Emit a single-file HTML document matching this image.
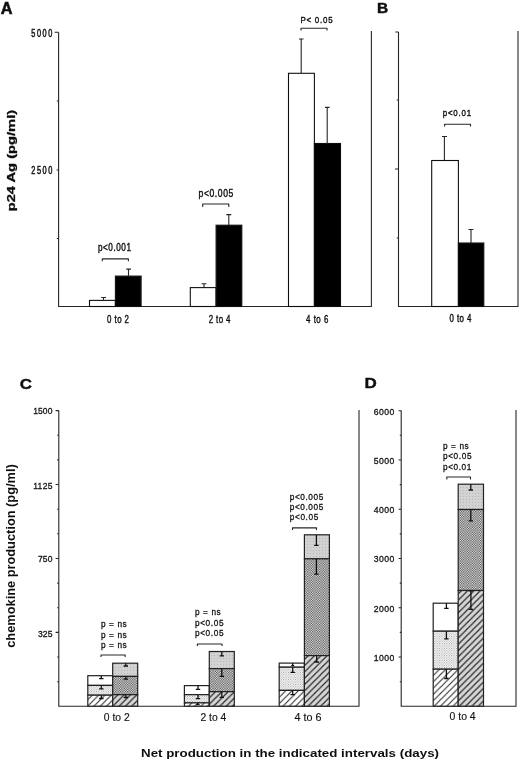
<!DOCTYPE html>
<html><head><meta charset="utf-8">
<style>
html,body{margin:0;padding:0;background:#fff;}
svg{display:block}
text{font-family:"Liberation Sans",sans-serif;fill:#111}
.s{font-size:10.3px;stroke:#111;stroke-width:.4}
.n{font-size:9.6px;stroke:#111;stroke-width:.3}
.c{font-size:10.8px;stroke:#111;stroke-width:.15}
.b{font-weight:bold}
.ln{stroke:#262626;stroke-width:1.1;fill:none}
.eb{stroke:#111;stroke-width:1.3;fill:none}
</style></head><body>
<svg width="520" height="762" viewBox="0 0 520 762">
<defs>
<filter id="bl" x="0" y="0" width="520" height="762" filterUnits="userSpaceOnUse"><feGaussianBlur stdDeviation="0.35"/></filter>
<pattern id="hw" width="6.3" height="6.3" patternUnits="userSpaceOnUse">
<rect width="6.3" height="6.3" fill="#fff"/>
<path d="M-1,1 L1,-1 M-1,7.3 L7.3,-1 M5.3,7.3 L7.3,5.3" stroke="#222" stroke-width="1"/>
</pattern>
<pattern id="hg" width="6.3" height="6.3" patternUnits="userSpaceOnUse">
<rect width="6.3" height="6.3" fill="#d6d6d6"/>
<path d="M-1,1 L1,-1 M-1,7.3 L7.3,-1 M5.3,7.3 L7.3,5.3" stroke="#222" stroke-width="1.15"/>
</pattern>
<pattern id="dl" width="2.4" height="2.4" patternUnits="userSpaceOnUse">
<rect width="2.4" height="2.4" fill="#fff"/>
<rect width="0.9" height="0.9" fill="#8c8c8c"/>
<rect x="1.2" y="1.2" width="0.9" height="0.9" fill="#8c8c8c"/>
</pattern>
<pattern id="lg" width="3" height="3" patternUnits="userSpaceOnUse">
<rect width="3" height="3" fill="#d2d2d2"/>
<rect x="1" y="1" width="1" height="1" fill="#b8b8b8"/>
</pattern>
<pattern id="xh" width="2.4" height="2.4" patternUnits="userSpaceOnUse">
<rect width="2.4" height="2.4" fill="#f0f0f0"/>
<rect width="1.2" height="1.2" fill="#484848"/>
<rect x="1.2" y="1.2" width="1.2" height="1.2" fill="#484848"/>
</pattern>
</defs>
<g filter="url(#bl)">
<rect width="520" height="762" fill="#fff"/>
<text transform="translate(0.8,13.8) scale(1.1,1.09)" class="b" style="font-size:14.8px;stroke:#111;stroke-width:.5">A</text>
<text transform="translate(376.9,13.3) scale(1.03,1)" class="b" style="font-size:15px;stroke:#111;stroke-width:.5">B</text>
<text transform="translate(19.7,389.4) scale(1.14,1)" class="b" style="font-size:14.8px;stroke:#111;stroke-width:.4">C</text>
<text transform="translate(364.6,388.1) scale(1.12,1)" class="b" style="font-size:15.2px;stroke:#111;stroke-width:.4">D</text>
<path class="ln" d="M58.6,32.3 V306.5 H371.4 V31"/>
<path class="ln" d="M54.6,32.3 H58.6 M56.8,101 H58.6 M56.6,170 H58.6 M56.8,238.5 H58.6"/>
<text transform="translate(52.3,36.6) scale(0.7,1)" class="s" text-anchor="end" textLength="30.00" lengthAdjust="spacing" style="font-size:10.5px;stroke-width:.5">5000</text>
<text transform="translate(52.3,173.9) scale(0.7,1)" class="s" text-anchor="end" textLength="30.00" lengthAdjust="spacing" style="font-size:10.6px;stroke-width:.5">2500</text>
<text transform="translate(14.5,160.6) rotate(-90)" text-anchor="middle" class="b" style="font-size:11.4px;stroke:#111;stroke-width:.3" textLength="101.5" lengthAdjust="spacingAndGlyphs">p24 Ag (pg/ml)</text>
<g stroke="#111" stroke-width="1.1">
<rect x="89.5" y="300.4" width="25.9" height="6.1" fill="#fff"/>
<rect x="115.4" y="276.1" width="25.7" height="30.4" fill="#000"/>
<rect x="190.3" y="287.6" width="25.8" height="18.9" fill="#fff"/>
<rect x="216.1" y="225.2" width="25.7" height="81.3" fill="#000"/>
<rect x="288.5" y="73.3" width="25.9" height="233.2" fill="#fff"/>
<rect x="314.4" y="143.5" width="26.1" height="163" fill="#000"/>
</g>
<path class="ln" d="M103.5,300 V297.5 M101.2,297.5 H106 M128.5,276 V269.1 M126.2,269.1 H131 M204,287.6 V283.8 M201.6,283.8 H206.4 M228.8,225 V214.6 M226.3,214.6 H231.3 M301.2,73.3 V39 M299,39 H303.5 M327.2,143.5 V107.4 M325,107.4 H329.6"/>
<path class="ln" stroke-linejoin="round" d="M102.3,261.2 V258.9 H128.4 V261.2 M202.7,207 V204 H228.8 V207 M301,30.6 V28.3 H327 V30.6"/>
<text transform="translate(97.9,251.4) scale(0.8,1)" class="s" textLength="41.38" lengthAdjust="spacing" style="font-size:10.2px">p&lt;0.001</text>
<text transform="translate(198.6,196.8) scale(0.86,1)" class="s" textLength="40.35" lengthAdjust="spacing" style="font-size:10px">p&lt;0.005</text>
<text transform="translate(300.4,23.4) scale(0.8,1)" class="s" textLength="40.25" lengthAdjust="spacing" style="font-size:9.9px">P&lt; 0.05</text>
<text transform="translate(118,323) scale(0.76,1)" class="s" text-anchor="middle" textLength="28.95" lengthAdjust="spacing" style="font-size:10.4px">0 to 2</text>
<text transform="translate(219.6,322.9) scale(0.76,1)" class="s" text-anchor="middle" textLength="28.68" lengthAdjust="spacing" style="font-size:10.4px">2 to 4</text>
<text transform="translate(317.2,322.6) scale(0.76,1)" class="s" text-anchor="middle" textLength="29.47" lengthAdjust="spacing" style="font-size:10.4px">4 to 6</text>
<path class="ln" d="M398.5,32 V306.5 H518 V31"/>
<path class="ln" d="M395.3,32 H398.5 M396.7,100 H398.5 M395,169 H398.5 M396.7,238 H398.5"/>
<g stroke="#111" stroke-width="1.1">
<rect x="431.7" y="160.5" width="26.7" height="146" fill="#fff"/>
<rect x="458.4" y="243" width="25.4" height="63.5" fill="#000"/>
</g>
<path class="ln" d="M444.4,160 V136.5 M442,136.5 H447 M471,243 V229.5 M468.5,229.5 H473.5"/>
<path class="ln" stroke-linejoin="round" d="M444.6,126.6 V124.2 H470.5 V126.6"/>
<text transform="translate(442.7,115.8) scale(0.8,1)" class="s" textLength="35.62" lengthAdjust="spacing" style="font-size:9.9px">p&lt;0.01</text>
<text transform="translate(460.4,322.4) scale(0.76,1)" class="s" text-anchor="middle" textLength="28.68" lengthAdjust="spacing" style="font-size:10.4px">0 to 4</text>
<path class="ln" d="M58.8,410.4 V706.3 H359 V410"/>
<path class="ln" d="M55.6,410.6 H58.8 M57.2,435.2 H58.8 M57.2,459.9 H58.8 M55.6,484.5 H58.8 M57.2,509.2 H58.8 M57.2,533.8 H58.8 M55.6,558.5 H58.8 M57.2,583.1 H58.8 M57.2,607.8 H58.8 M55.6,632.4 H58.8 M57.2,657.0 H58.8 M57.2,681.7 H58.8"/>
<text transform="translate(52.4,414.1) scale(0.88,1)" class="n" text-anchor="end" textLength="21.82" lengthAdjust="spacing" style="font-size:9.7px">1500</text>
<text transform="translate(52.4,488.5) scale(0.88,1)" class="n" text-anchor="end" textLength="21.82" lengthAdjust="spacing" style="font-size:9.7px">1125</text>
<text transform="translate(52.4,562.3) scale(0.88,1)" class="n" text-anchor="end" textLength="16.36" lengthAdjust="spacing" style="font-size:9.7px">750</text>
<text transform="translate(52.4,636.8) scale(0.88,1)" class="n" text-anchor="end" textLength="16.36" lengthAdjust="spacing" style="font-size:9.7px">325</text>
<text transform="translate(14.7,556) rotate(-90)" text-anchor="middle" class="b" style="font-size:12.3px" textLength="183.5" lengthAdjust="spacingAndGlyphs">chemokine production (pg/ml)</text>
<g stroke="#222" stroke-width="1.2">
<rect x="87.8" y="675.7" width="24.9" height="9.7" fill="#fff"/>
<rect x="87.8" y="685.4" width="24.9" height="9.8" fill="url(#dl)"/>
<rect x="87.8" y="695.2" width="24.9" height="11.0" fill="url(#hw)"/>
<rect x="112.7" y="663.2" width="25" height="13.2" fill="url(#lg)"/>
<rect x="112.7" y="676.4" width="25" height="18.3" fill="url(#xh)"/>
<rect x="112.7" y="694.7" width="25" height="11.5" fill="url(#hg)"/>
<rect x="184.4" y="685.6" width="24.9" height="9.1" fill="#fff"/>
<rect x="184.4" y="694.7" width="24.9" height="8.2" fill="url(#dl)"/>
<rect x="184.4" y="702.9" width="24.9" height="3.3" fill="url(#hw)"/>
<rect x="209.3" y="651.5" width="25" height="17.1" fill="url(#lg)"/>
<rect x="209.3" y="668.6" width="25" height="23.1" fill="url(#xh)"/>
<rect x="209.3" y="691.7" width="25" height="14.5" fill="url(#hg)"/>
<rect x="279.2" y="663.1" width="25.2" height="4.1" fill="#fff"/>
<rect x="279.2" y="667.2" width="25.2" height="23.2" fill="url(#dl)"/>
<rect x="279.2" y="690.4" width="25.2" height="15.8" fill="url(#hw)"/>
<rect x="304.4" y="534.8" width="25" height="24.0" fill="url(#lg)"/>
<rect x="304.4" y="558.8" width="25" height="96.8" fill="url(#xh)"/>
<rect x="304.4" y="655.6" width="25" height="50.6" fill="url(#hg)"/>
</g>
<path class="eb" d="M101.3,675.7 V678.7 M99.1,678.7 H103.5 M101.3,685.4 V688.8 M99.1,688.8 H103.5 M101.3,695.2 V698.5 M99.1,698.5 H103.5 M125.8,663.2 V666 M123.6,666 H128.0 M125.8,676.3 V679.2 M123.6,679.2 H128.0 M125.8,694.6 V697.5 M123.6,697.5 H128.0 M198,685.6 V689.3 M195.8,689.3 H200.2 M198,694.7 V698.6 M195.8,698.6 H200.2 M198,702.9 V704.6 M196.4,704.6 H199.6 M221.8,651.5 V655.9 M219.60000000000002,655.9 H224.0 M221.8,668.6 V676.4 M219.60000000000002,676.4 H224.0 M221.8,691.7 V697.3 M219.60000000000002,697.3 H224.0 M292.7,663.1 V665.6 M291.2,665.6 H294.2 M292.7,667.2 V672.4 M290.5,672.4 H294.9 M292.7,690.4 V694.6 M290.5,694.6 H294.9 M316.4,534.8 V545.4 M314.2,545.4 H318.59999999999997 M316.4,558.8 V574.2 M314.2,574.2 H318.59999999999997 M316.7,655.6 V662 M314.5,662 H318.9"/>
<path class="ln" stroke-linejoin="round" d="M101,657 V655 H125.2 V657 M197.4,646 V644 H222 V646 M292.5,530 V527.9 H316.5 V530"/>
<text transform="translate(101,627.4) scale(0.86,1)" class="n" textLength="29.88" lengthAdjust="spacing">p = ns</text>
<text transform="translate(101,637.6) scale(0.86,1)" class="n" textLength="29.88" lengthAdjust="spacing">p = ns</text>
<text transform="translate(101,647.8) scale(0.86,1)" class="n" textLength="29.88" lengthAdjust="spacing">p = ns</text>
<text transform="translate(195,615.2) scale(0.86,1)" class="n" textLength="29.88" lengthAdjust="spacing">p = ns</text>
<text transform="translate(195,625.6) scale(0.86,1)" class="n" textLength="33.14" lengthAdjust="spacing">p&lt;0.05</text>
<text transform="translate(195,635.8) scale(0.86,1)" class="n" textLength="33.14" lengthAdjust="spacing">p&lt;0.05</text>
<text transform="translate(289.8,499.6) scale(0.86,1)" class="n" textLength="38.95" lengthAdjust="spacing">p&lt;0.005</text>
<text transform="translate(289.8,509.8) scale(0.86,1)" class="n" textLength="38.95" lengthAdjust="spacing">p&lt;0.005</text>
<text transform="translate(289.8,520) scale(0.86,1)" class="n" textLength="33.14" lengthAdjust="spacing">p&lt;0.05</text>
<text x="116.8" y="720.7" class="c" text-anchor="middle" textLength="25.9" lengthAdjust="spacingAndGlyphs">0 to 2</text>
<text x="213.4" y="720.8" class="c" text-anchor="middle" textLength="25.9" lengthAdjust="spacingAndGlyphs">2 to 4</text>
<text x="308" y="720.6" class="c" text-anchor="middle" textLength="26.9" lengthAdjust="spacingAndGlyphs">4 to 6</text>
<path class="ln" d="M401.2,410.4 V706.2 H516 V410"/>
<path class="ln" d="M398.6,410.7 H401.2 M399.8,435.3 H401.2 M398.6,460.0 H401.2 M399.8,484.6 H401.2 M398.6,509.2 H401.2 M399.8,533.9 H401.2 M398.6,558.5 H401.2 M399.8,583.1 H401.2 M398.6,607.8 H401.2 M399.8,632.4 H401.2 M398.6,657.0 H401.2 M399.8,681.7 H401.2"/>
<text transform="translate(394.3,414.5) scale(0.93,1)" class="s" text-anchor="end" textLength="22.15" lengthAdjust="spacing" style="font-size:9.3px;stroke-width:.3">6000</text>
<text transform="translate(394.3,463.8) scale(0.93,1)" class="s" text-anchor="end" textLength="22.15" lengthAdjust="spacing" style="font-size:9.3px;stroke-width:.3">5000</text>
<text transform="translate(394.3,513.1) scale(0.93,1)" class="s" text-anchor="end" textLength="22.15" lengthAdjust="spacing" style="font-size:9.3px;stroke-width:.3">4000</text>
<text transform="translate(394.3,562.4) scale(0.93,1)" class="s" text-anchor="end" textLength="22.15" lengthAdjust="spacing" style="font-size:9.3px;stroke-width:.3">3000</text>
<text transform="translate(394.3,611.7) scale(0.93,1)" class="s" text-anchor="end" textLength="22.15" lengthAdjust="spacing" style="font-size:9.3px;stroke-width:.3">2000</text>
<text transform="translate(394.3,661.0) scale(0.93,1)" class="s" text-anchor="end" textLength="22.15" lengthAdjust="spacing" style="font-size:9.3px;stroke-width:.3">1000</text>
<g stroke="#222" stroke-width="1.2">
<rect x="433.2" y="603.2" width="25" height="28.0" fill="#fff"/>
<rect x="433.2" y="631.2" width="25" height="38.0" fill="url(#dl)"/>
<rect x="433.2" y="669.2" width="25" height="37.0" fill="url(#hw)"/>
<rect x="458.2" y="484.2" width="25.3" height="25.3" fill="url(#lg)"/>
<rect x="458.2" y="509.5" width="25.3" height="81.0" fill="url(#xh)"/>
<rect x="458.2" y="590.5" width="25.3" height="115.7" fill="url(#hg)"/>
</g>
<path class="eb" d="M446.4,603.2 V608.4 M444.2,608.4 H448.59999999999997 M446.4,631.2 V638.9 M444.2,638.9 H448.59999999999997 M446.4,669.2 V678.5 M444.2,678.5 H448.59999999999997 M470.8,484.2 V490 M468.6,490 H473.0 M470.8,509.5 V520.8 M468.6,520.8 H473.0 M470.9,590.8 V609.3 M468.7,609.3 H473.09999999999997 M468.7,590.8 H473.09999999999997"/>
<path class="ln" stroke-linejoin="round" d="M446.8,479.5 V477 H470.5 V479.5"/>
<text transform="translate(443,449) scale(0.86,1)" class="n" textLength="29.88" lengthAdjust="spacing">p = ns</text>
<text transform="translate(443,459.2) scale(0.86,1)" class="n" textLength="33.14" lengthAdjust="spacing">p&lt;0.05</text>
<text transform="translate(443,469.6) scale(0.86,1)" class="n" textLength="32.91" lengthAdjust="spacing">p&lt;0.01</text>
<text x="462.6" y="720.4" class="c" text-anchor="middle" textLength="26.1" lengthAdjust="spacingAndGlyphs">0 to 4</text>
<text x="141" y="757.3" class="b" style="font-size:10.8px" textLength="298" lengthAdjust="spacingAndGlyphs">Net production in the indicated intervals (days)</text>
</g>
</svg>
</body></html>
